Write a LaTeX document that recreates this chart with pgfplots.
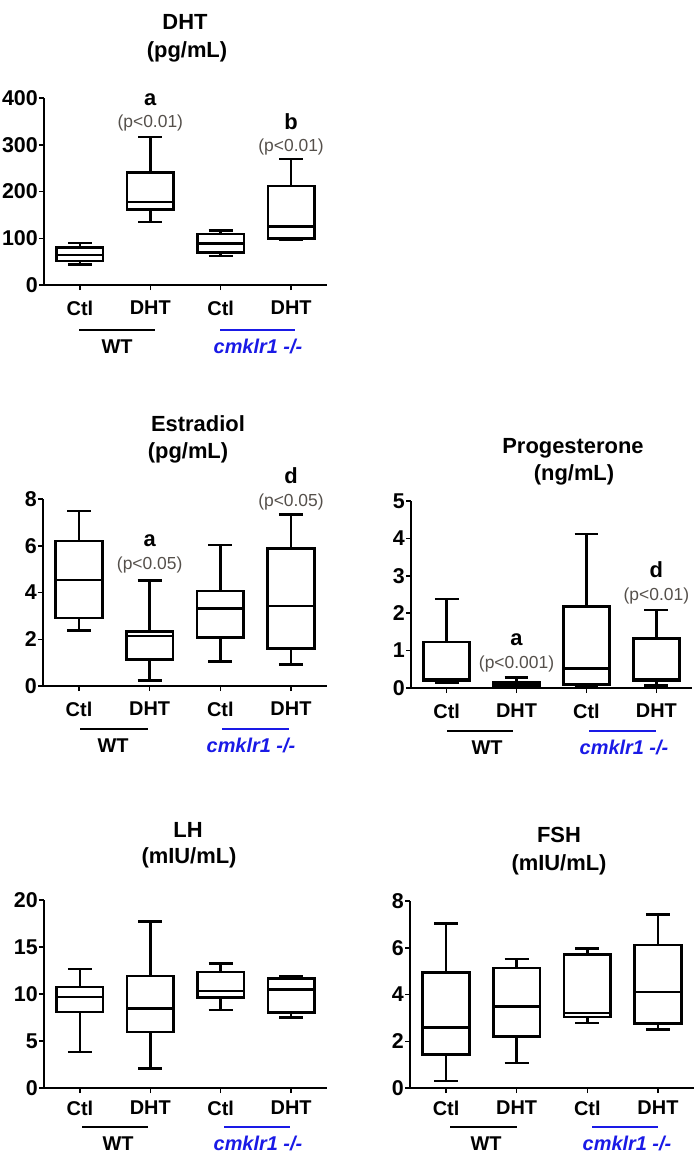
\documentclass[border=0pt]{standalone}
\usepackage{pgfplots}
\pgfplotsset{compat=1.18}
\usepackage{fontspec}
\setmainfont{Liberation Sans}
\definecolor{kblue}{RGB}{26,26,230}
\definecolor{pgray}{RGB}{85,80,75}
\newcommand{\tfont}{\bfseries\fontsize{22}{26}\selectfont}
\newcommand{\lfont}{\bfseries\fontsize{20}{24}\selectfont}
\newcommand{\yfont}{\bfseries\fontsize{21.5}{25}\selectfont}
\newcommand{\pfont}{\fontsize{17.5}{20}\selectfont}
% one box: position, lower whisker, lower quartile, median, upper quartile, upper whisker
\newcommand{\bx}[6]{%
  \pgfmathsetmacro\xa{#1-0.33}%
  \pgfmathsetmacro\xb{#1+0.33}%
  \pgfmathsetmacro\ca{#1-0.17}%
  \pgfmathsetmacro\cb{#1+0.17}%
  \edef\bxcmd{\noexpand\addplot[boxln] coordinates {(#1,#3) (\xb,#3) (\xb,#5) (\xa,#5) (\xa,#3) (#1,#3) (nan,nan) (\xa,#4) (\xb,#4) (nan,nan) (#1,#5) (#1,#6) (nan,nan) (\ca,#6) (\cb,#6) (nan,nan) (#1,#3) (#1,#2) (nan,nan) (\ca,#2) (\cb,#2)};}%
  \bxcmd}
\pgfplotsset{
  panel/.style={
    scale only axis, width=283bp, height=187bp,
    axis lines*=left,
    xmin=-0.51, xmax=3.51, ymin=0,
    xtick={0,1,2,3}, xticklabels={Ctl,DHT,Ctl,DHT},
    tick align=outside, major tick length=5bp,
    tick style={black, line width=1.5bp},
    axis line style={line width=1.5bp},
    xticklabel style={font=\lfont},
    yticklabel style={font=\yfont, inner xsep=1bp},
    xticklabel style={inner ysep=8bp},
    /pgf/number format/assume math mode=true,
    clip=false,
    unbounded coords=jump,
  },
  boxln/.style={black, line width=2.5bp, line join=miter, mark=none},
}
\tikzset{
  lett/.style={font=\tfont},
  pval/.style={font=\pfont, text=pgray},
  grp/.style={line width=2.5bp},
}
\begin{document}
\begin{tikzpicture}
\useasboundingbox (0bp,0bp) rectangle (697bp,-1161bp);

% ---------------- DHT ----------------
\begin{axis}[panel, at={(44bp,-285bp)}, anchor=south west, ymax=400, ytick={0,100,200,300,400},
  xticklabel style={inner ysep=11bp}]
\bx{0}{44}{51}{64}{80}{90}
\bx{1}{135}{162}{178}{241}{317}
\bx{2}{62}{69}{89}{109}{117}
\bx{3}{96}{100}{125}{212}{270}
\node[lett] at (axis cs:1,397) {a};
\node[pval] at (axis cs:1,347) {(p<0.01)};
\node[lett] at (axis cs:3,349) {b};
\node[pval] at (axis cs:3,295) {(p<0.01)};
\end{axis}
\node[anchor=base, font=\tfont] at (185bp,-29.3bp) {DHT};
\node[anchor=base, font=\tfont] at (187bp,-57.5bp) {(pg/mL)};
\draw[grp] (79bp,-330bp) -- (155bp,-330bp);
\draw[grp, kblue] (220bp,-330bp) -- (295bp,-330bp);
\node[anchor=base, font=\lfont] at (117bp,-353bp) {WT};
\node[anchor=base, font=\lfont\itshape, text=kblue] at (258bp,-353bp) {cmklr1 -/-};

% ---------------- Estradiol ----------------
\begin{axis}[panel, at={(43bp,-686bp)}, anchor=south west, width=284bp, ymax=8, ytick={0,2,4,6,8},
  xticklabel style={inner ysep=11bp}]
\bx{0}{2.37}{2.92}{4.54}{6.2}{7.49}
\bx{1}{0.24}{1.14}{2.14}{2.33}{4.52}
\bx{2}{1.04}{2.08}{3.32}{4.07}{6.03}
\bx{3}{0.93}{1.6}{3.42}{5.89}{7.33}
\node[lett] at (axis cs:1,6.2) {a};
\node[pval] at (axis cs:1,5.18) {(p<0.05)};
\node[lett] at (axis cs:3,9.0) {d};
\node[pval] at (axis cs:3,7.88) {(p<0.05)};
\end{axis}
\node[anchor=base, font=\tfont] at (198bp,-431bp) {Estradiol};
\node[anchor=base, font=\tfont] at (188bp,-458.5bp) {(pg/mL)};
\draw[grp] (80bp,-729bp) -- (148bp,-729bp);
\draw[grp, kblue] (222bp,-729bp) -- (289bp,-729bp);
\node[anchor=base, font=\lfont] at (113bp,-752bp) {WT};
\node[anchor=base, font=\lfont\itshape, text=kblue] at (251bp,-752bp) {cmklr1 -/-};

% ---------------- Progesterone ----------------
\begin{axis}[panel, at={(411bp,-688bp)}, anchor=south west, width=281bp, ymax=5, ytick={0,1,2,3,4,5},
  xticklabel style={inner ysep=11bp}]
\bx{0}{0.13}{0.2}{0.24}{1.23}{2.38}
\bx{1}{0.01}{0.03}{0.09}{0.16}{0.28}
\bx{2}{0.03}{0.1}{0.52}{2.18}{4.12}
\bx{3}{0.07}{0.2}{0.24}{1.32}{2.09}
\node[lett] at (axis cs:1,1.29) {a};
\node[pval] at (axis cs:1,0.65) {(p<0.001)};
\node[lett] at (axis cs:3,3.16) {d};
\node[pval] at (axis cs:3,2.46) {(p<0.01)};
\end{axis}
\node[anchor=base, font=\tfont] at (573bp,-453.5bp) {Progesterone};
\node[anchor=base, font=\tfont] at (574bp,-480.5bp) {(ng/mL)};
\draw[grp] (447bp,-731bp) -- (513bp,-731bp);
\draw[grp, kblue] (589bp,-731bp) -- (656bp,-731bp);
\node[anchor=base, font=\lfont] at (487bp,-754bp) {WT};
\node[anchor=base, font=\lfont\itshape, text=kblue] at (624bp,-754bp) {cmklr1 -/-};

% ---------------- LH ----------------
\begin{axis}[panel, at={(44bp,-1088bp)}, anchor=south west, height=188bp, ymax=20, ytick={0,5,10,15,20}]
\bx{0}{3.84}{8.1}{9.7}{10.76}{12.65}
\bx{1}{2.06}{5.97}{8.45}{11.94}{17.69}
\bx{2}{8.28}{9.63}{10.34}{12.36}{13.25}
\bx{3}{7.5}{8.03}{10.48}{11.65}{11.94}
\end{axis}
\node[anchor=base, font=\tfont] at (188bp,-837.7bp) {LH};
\node[anchor=base, font=\tfont] at (189bp,-863.5bp) {(mIU/mL)};
\draw[grp] (82bp,-1127bp) -- (148bp,-1127bp);
\draw[grp, kblue] (224bp,-1127bp) -- (290bp,-1127bp);
\node[anchor=base, font=\lfont] at (118bp,-1150bp) {WT};
\node[anchor=base, font=\lfont\itshape, text=kblue] at (258bp,-1150bp) {cmklr1 -/-};

% ---------------- FSH ----------------
\begin{axis}[panel, at={(410bp,-1088bp)}, anchor=south west, width=284bp, ymax=8, ytick={0,2,4,6,8}]
\bx{0}{0.29}{1.44}{2.58}{4.94}{7.03}
\bx{1}{1.07}{2.21}{3.49}{5.14}{5.51}
\bx{2}{2.78}{3.04}{3.21}{5.71}{5.96}
\bx{3}{2.51}{2.75}{4.11}{6.11}{7.42}
\end{axis}
\node[anchor=base, font=\tfont] at (559bp,-842.7bp) {FSH};
\node[anchor=base, font=\tfont] at (559bp,-870.5bp) {(mIU/mL)};
\draw[grp] (450bp,-1127bp) -- (517bp,-1127bp);
\draw[grp, kblue] (592bp,-1127bp) -- (658bp,-1127bp);
\node[anchor=base, font=\lfont] at (486bp,-1150bp) {WT};
\node[anchor=base, font=\lfont\itshape, text=kblue] at (627bp,-1150bp) {cmklr1 -/-};
\end{tikzpicture}
\end{document}
